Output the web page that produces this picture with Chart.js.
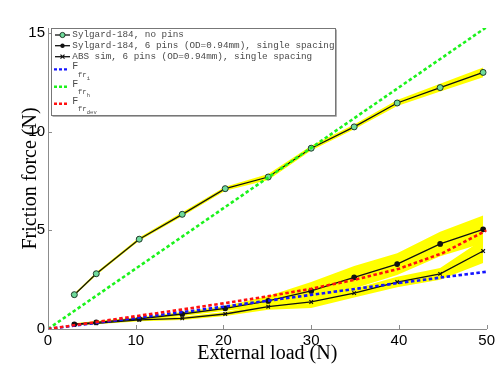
<!doctype html>
<html lang="en">
<head>
<meta charset="utf-8">
<title>Friction force vs external load</title>
<script src="https://cdn.jsdelivr.net/npm/chart.js"></script>
<style>
  body { margin: 0; background: #fff; }
  canvas { display: block; }
</style>
</head>
<body>
<canvas id="chart" width="498" height="367"></canvas>
<script>
// measured points (external load in N)
const loads = [3, 5.5, 10.4, 15.3, 20.2, 25.1, 30, 34.9, 39.8, 44.7, 49.6];
const noPins = [1.74, 2.8, 4.55, 5.81, 7.11, 7.7, 9.16, 10.24, 11.45, 12.23, 13.0];
const noPinsErr = [0.06, 0.08, 0.08, 0.1, 0.1, 0.15, 0.12, 0.12, 0.15, 0.2, 0.25];
const sixPins = [0.24, 0.34, 0.52, 0.76, 1.05, 1.42, 1.93, 2.62, 3.29, 4.31, 5.05];
const sixPinsErr = [0.05, 0.06, 0.08, 0.1, 0.12, 0.25, 0.45, 0.57, 0.55, 0.62, 0.7];
const absSim = [0.24, 0.29, 0.46, 0.54, 0.76, 1.13, 1.37, 1.82, 2.38, 2.79, 3.95];
const absSimErr = [0.05, 0.05, 0.07, 0.08, 0.1, 0.15, 0.3, 0.22, 0.27, 0.3, 0.6];

// model curves
const modelLoads = [0, 5, 10, 15, 20, 25, 30, 35, 40, 45, 50];
const ffrI = [0, 0.28, 0.56, 0.84, 1.13, 1.43, 1.73, 2.03, 2.33, 2.62, 2.9];
const ffrDev = [0, 0.32, 0.65, 0.97, 1.3, 1.65, 2.04, 2.5, 3.05, 3.85, 5.0];
const ffrHLoads = [0, 50];
const ffrH = [0, 15.3];

const xTicks = [0, 10, 20, 30, 40, 50];
const yTicks = [0, 5, 10, 15];

const seriesLabels = [
  'Sylgard-184, no pins',
  'Sylgard-184, 6 pins (OD=0.94mm), single spacing',
  'ABS sim, 6 pins (OD=0.94mm), single spacing'
];
const modelSubs = ['i', 'h', 'dev'];

const YELLOW = '#ffff00';
const BLUE = '#1414ff';
const GREEN = '#1cf21c';
const RED = '#ff1010';
const AXIS = '#8c8c8c';

function pts(xs, ys) { return xs.map((x, i) => ({ x: x, y: ys[i] })); }
function shift(ys, err, s) { return ys.map((v, i) => v + s * err[i]); }

const datasets = [];
// yellow spread bands
[[noPins, noPinsErr], [sixPins, sixPinsErr], [absSim, absSimErr]].forEach(([ys, err]) => {
  datasets.push({ data: pts(loads, shift(ys, err, 1)), borderWidth: 0, pointRadius: 0, fill: false, order: 10 });
  datasets.push({ data: pts(loads, shift(ys, err, -1)), borderWidth: 0, pointRadius: 0,
    fill: '-1', backgroundColor: YELLOW, order: 10 });
});
// measured series
datasets.push({ data: pts(loads, noPins), borderColor: '#111', borderWidth: 1.3,
  pointStyle: 'circle', pointRadius: 3, pointBackgroundColor: '#6fdb9c',
  pointBorderColor: '#1f3a28', pointBorderWidth: 1, order: 5 });
datasets.push({ data: pts(loads, sixPins), borderColor: '#111', borderWidth: 1.3,
  pointStyle: 'circle', pointRadius: 2.2, pointBackgroundColor: '#111',
  pointBorderColor: '#111', order: 5 });
datasets.push({ data: pts(loads, absSim), borderColor: '#111', borderWidth: 1.3,
  pointStyle: 'crossRot', pointRadius: 2.5, pointBorderColor: '#111',
  pointBorderWidth: 1.2, order: 5 });
// model lines
datasets.push({ data: pts(modelLoads, ffrI), borderColor: BLUE, borderWidth: 2.6,
  borderDash: [3.5, 2.5], pointRadius: 0, order: 2 });
datasets.push({ data: pts(ffrHLoads, ffrH), borderColor: GREEN, borderWidth: 2.6,
  borderDash: [3.5, 2.5], pointRadius: 0, order: 2 });
datasets.push({ data: pts(modelLoads, ffrDev), borderColor: RED, borderWidth: 2.6,
  borderDash: [3.5, 2.5], pointRadius: 0, order: 1 });

// inward tick marks
const innerTicks = {
  id: 'innerTicks',
  afterDatasetsDraw(chart) {
    const { ctx, chartArea: a, scales: { x, y } } = chart;
    ctx.save();
    ctx.strokeStyle = AXIS;
    ctx.lineWidth = 1;
    ctx.beginPath();
    xTicks.forEach(v => {
      const px = Math.round(x.getPixelForValue(v)) + 0.5;
      ctx.moveTo(px, a.bottom); ctx.lineTo(px, a.bottom - 4);
    });
    yTicks.forEach(v => {
      const py = Math.round(y.getPixelForValue(v)) + 0.5;
      ctx.moveTo(a.left, py); ctx.lineTo(a.left + 4, py);
    });
    ctx.stroke();
    ctx.restore();
  }
};

// MATLAB-style legend box with subscripts
const boxLegend = {
  id: 'boxLegend',
  afterDraw(chart) {
    const ctx = chart.ctx;
    const L = 51.5, T = 28.5, R = 335.5, B = 115.5;
    ctx.save();
    ctx.fillStyle = '#fff';
    ctx.fillRect(L, T, R - L, B - T);
    ctx.strokeStyle = '#777';
    ctx.lineWidth = 1;
    ctx.strokeRect(L, T, R - L, B - T);
    ctx.strokeStyle = '#b0b0b0';
    ctx.beginPath();
    ctx.moveTo(R + 1, T + 1); ctx.lineTo(R + 1, B + 1); ctx.lineTo(L + 1, B + 1);
    ctx.stroke();

    const textX = 72.3;
    const rowY = [35, 45.7, 56.7];
    ctx.font = '9.3px "Liberation Mono", monospace';
    ctx.textBaseline = 'middle';
    ctx.textAlign = 'left';
    seriesLabels.forEach((lab, i) => {
      const yy = rowY[i];
      ctx.strokeStyle = '#111';
      ctx.lineWidth = 1.3;
      ctx.beginPath(); ctx.moveTo(55, yy); ctx.lineTo(70, yy); ctx.stroke();
      if (i === 0) {
        ctx.beginPath(); ctx.arc(62.5, yy, 2.6, 0, Math.PI * 2);
        ctx.fillStyle = '#6fdb9c'; ctx.fill();
        ctx.strokeStyle = '#1f3a28'; ctx.lineWidth = 1; ctx.stroke();
      } else if (i === 1) {
        ctx.beginPath(); ctx.arc(62.5, yy, 2.2, 0, Math.PI * 2);
        ctx.fillStyle = '#111'; ctx.fill();
      } else {
        ctx.lineWidth = 1.2;
        ctx.beginPath();
        ctx.moveTo(60.5, yy - 2); ctx.lineTo(64.5, yy + 2);
        ctx.moveTo(60.5, yy + 2); ctx.lineTo(64.5, yy - 2);
        ctx.stroke();
      }
      ctx.fillStyle = '#4a4a4a';
      ctx.fillText(lab, textX, yy);
    });

    const mColors = [BLUE, GREEN, RED];
    const fY = [66.7, 84, 101];
    modelSubs.forEach((sub, i) => {
      const yy = fY[i];
      ctx.strokeStyle = mColors[i];
      ctx.lineWidth = 2.4;
      ctx.setLineDash([3, 2]);
      ctx.beginPath(); ctx.moveTo(54, yy + 2.7); ctx.lineTo(69, yy + 2.7); ctx.stroke();
      ctx.setLineDash([]);
      ctx.fillStyle = '#4a4a4a';
      ctx.font = '10px "Liberation Mono", monospace';
      ctx.fillText('F', textX, yy);
      ctx.font = '7.5px "Liberation Mono", monospace';
      ctx.fillText('fr', 77.8, yy + 8);
      ctx.font = '5.5px "Liberation Mono", monospace';
      ctx.fillText(sub, 86.8, yy + 11.5);
    });
    ctx.restore();
  }
};

new Chart(document.getElementById('chart'), {
  type: 'line',
  data: { datasets: datasets },
  options: {
    responsive: false,
    animation: false,
    layout: { padding: { top: 28, right: 11, left: 0, bottom: 0 } },
    plugins: { legend: { display: false }, tooltip: { enabled: false } },
    elements: { line: { tension: 0 } },
    scales: {
      x: {
        type: 'linear', min: 0, max: 50,
        afterBuildTicks: s => { s.ticks = xTicks.map(v => ({ value: v })); },
        afterFit: s => { s.height = 38; },
        grid: { display: true, drawOnChartArea: false, drawTicks: false, color: AXIS },
        border: { display: true, color: AXIS, width: 1 },
        ticks: { padding: 3, color: '#000', font: { family: '"Liberation Sans", Arial, sans-serif', size: 15 } },
        title: { display: true, text: 'External load (N)', color: '#000',
          font: { family: '"Liberation Serif", "DejaVu Serif", serif', size: 20 },
          padding: { top: 0, bottom: 1 } }
      },
      y: {
        type: 'linear', min: 0, max: 15.25,
        afterBuildTicks: s => { s.ticks = yTicks.map(v => ({ value: v })); },
        afterFit: s => { s.width = 48; },
        grid: { display: true, drawOnChartArea: false, drawTicks: false, color: AXIS },
        border: { display: true, color: AXIS, width: 1 },
        ticks: { padding: 3, color: '#000', font: { family: '"Liberation Sans", Arial, sans-serif', size: 15 } },
        title: { display: true, text: 'Friction force (N)', color: '#000',
          font: { family: '"Liberation Serif", "DejaVu Serif", serif', size: 20 },
          padding: { top: 19, bottom: 0 } }
      }
    }
  },
  plugins: [innerTicks, boxLegend]
});
</script>
</body>
</html>
